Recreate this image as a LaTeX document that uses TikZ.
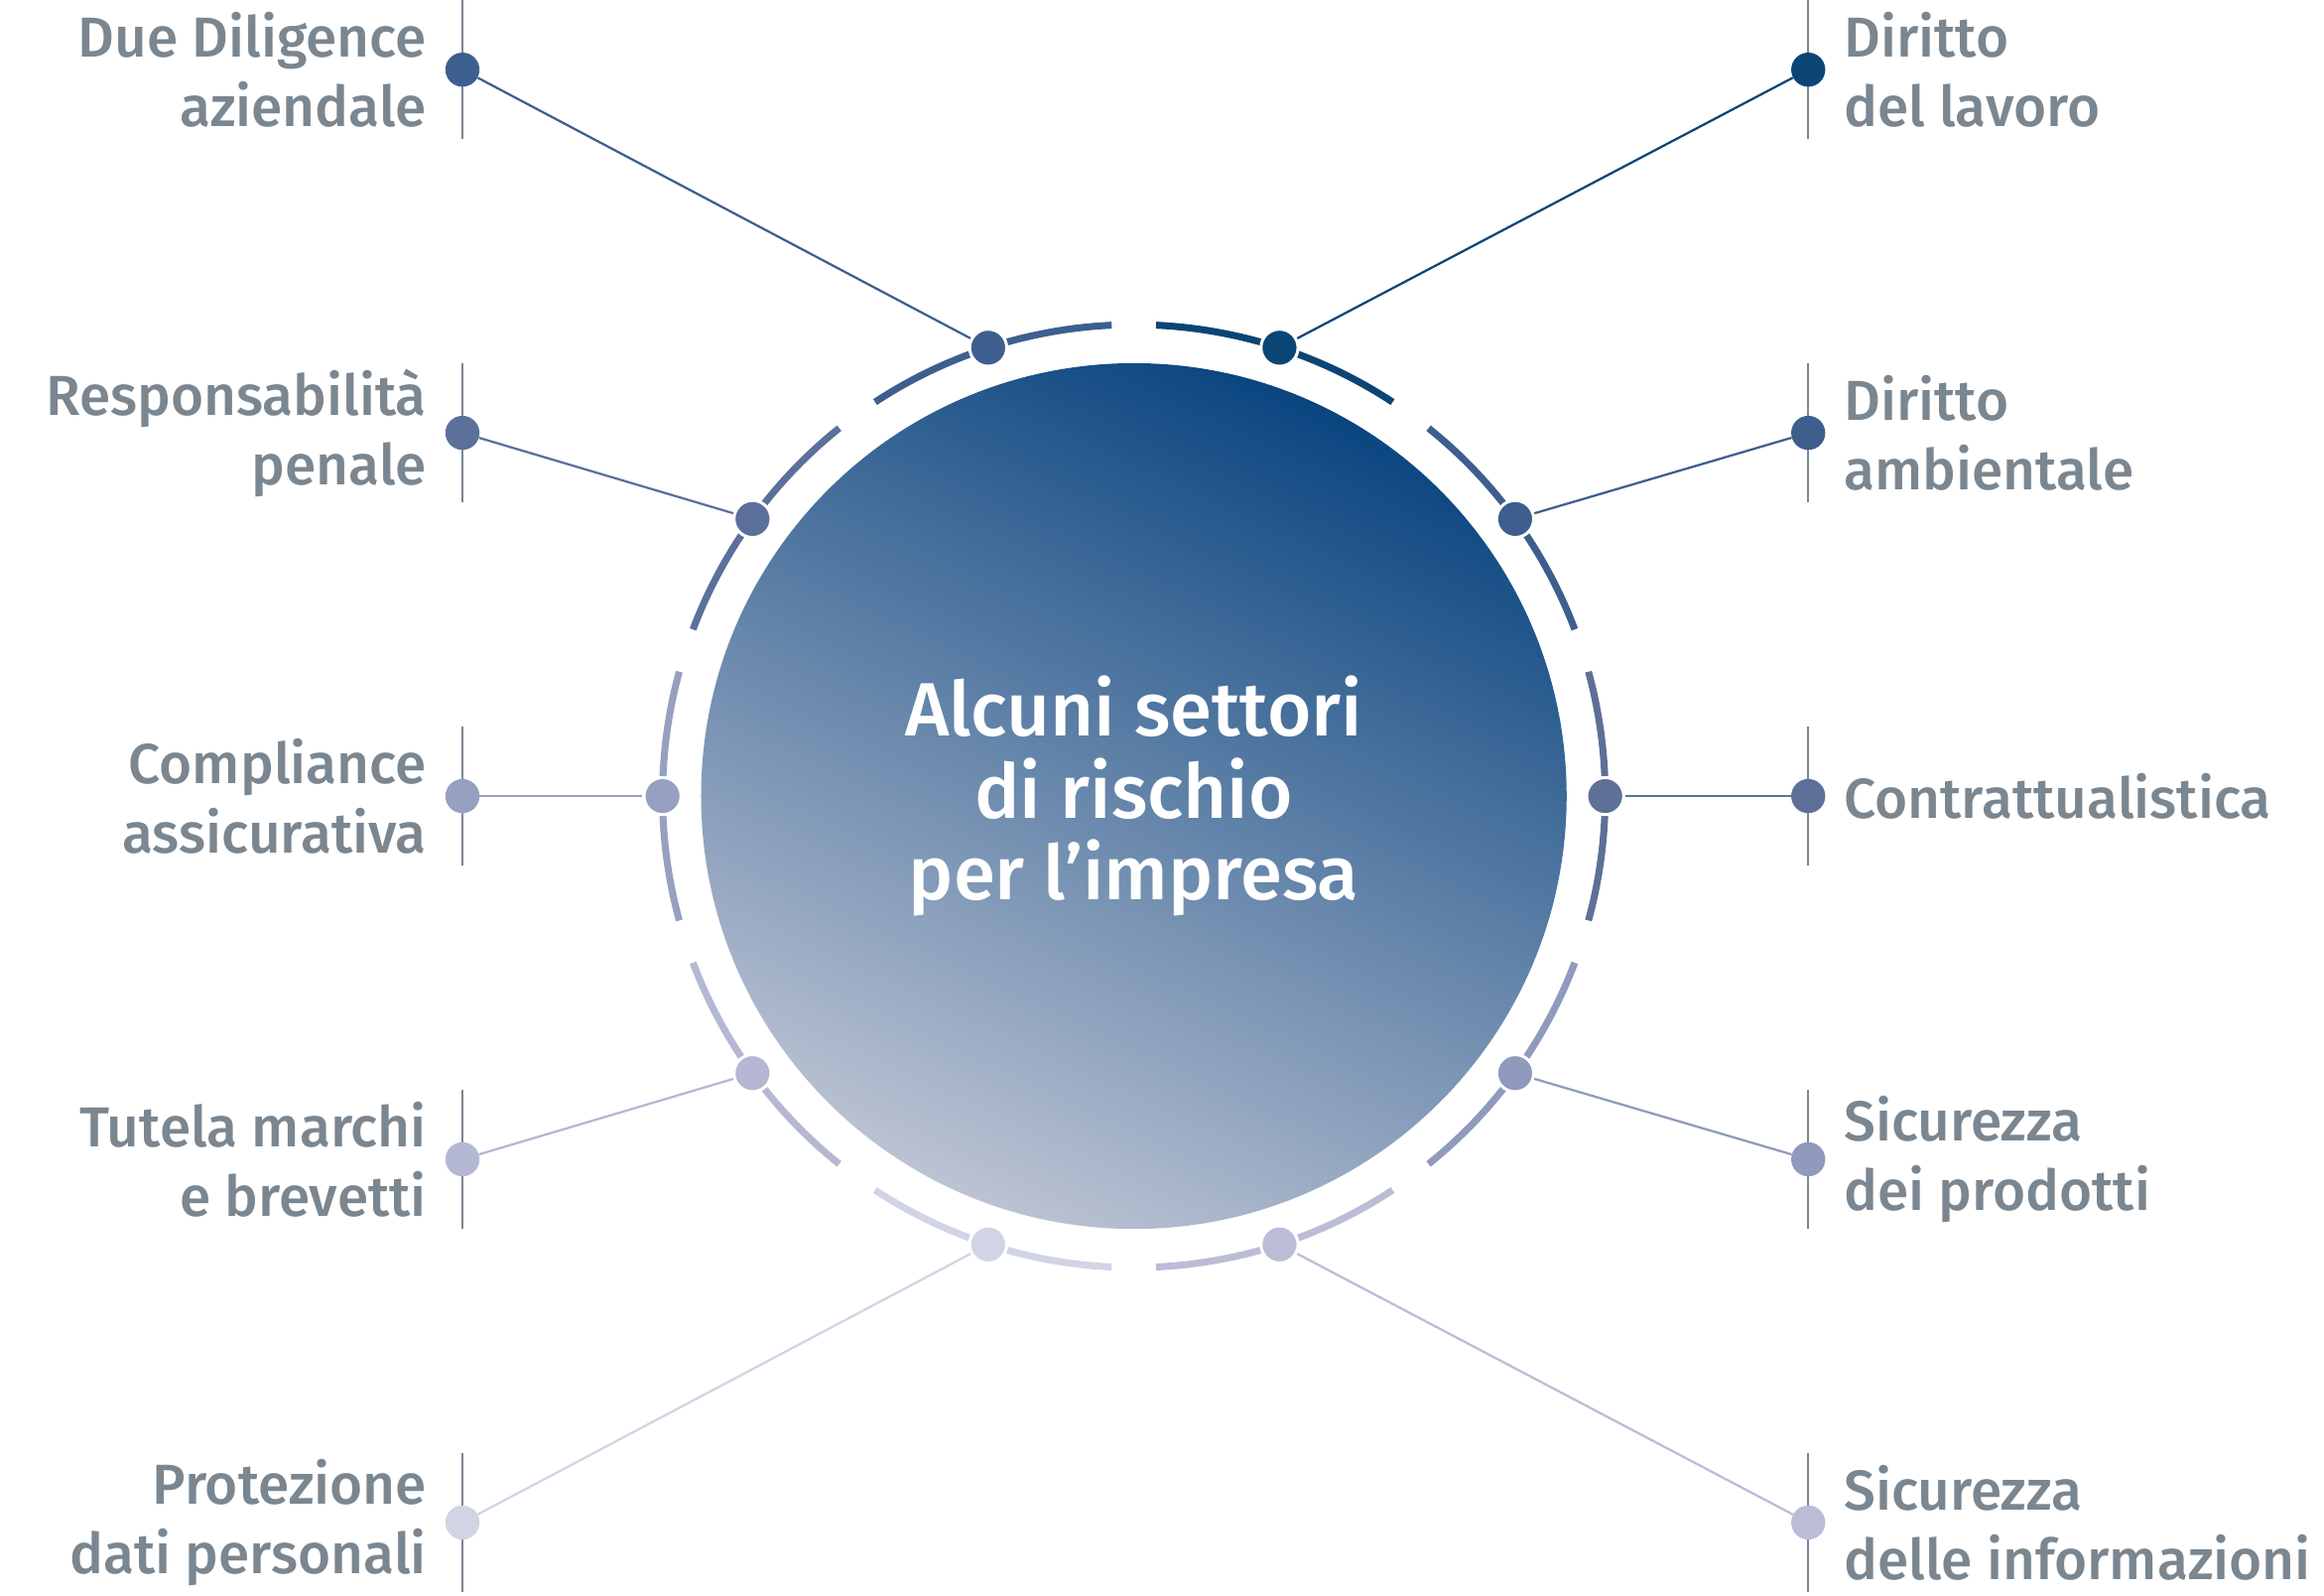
\documentclass[tikz,border=0pt]{standalone}
\usepackage{fontspec}
\setmainfont{Fira Sans}[UprightFont=* Medium]
\begin{document}
\begin{tikzpicture}[x=1pt,y=1pt]
\useasboundingbox (0,0) rectangle (1568,1076);
\definecolor{txt}{HTML}{7A8690}
\definecolor{dark}{HTML}{0A4580}
\definecolor{light}{HTML}{BCC3D3}
\tikzset{lbl/.style={text=txt,font=\fontsize{38}{47}\selectfont,inner sep=0pt},
  tick/.style={draw=txt,line width=1.5pt},
  ring/.style={line width=4.7pt},
  dotc/.style={circle,inner sep=0pt,minimum size=23pt},
  link/.style={line width=1.5pt}}
\shade[shading=axis,top color=dark,bottom color=light,shading angle=-25] (765,539) circle (292);
\node[text=white,align=center,font=\fontsize{51}{55}\selectfont,inner sep=0pt] (c) at (765,539) {Alcuni settori\\di rischio\\per l’impresa};
\foreach \a/\col/\oy/\ox/\name/\txt in {
 108/3D5F8F/1029/312/dd/{Due Diligence\\aziendale},
 144/5B709B/784/312/rp/{Responsabilità\\penale},
 180/96A0C0/539/312/ca/{Compliance\\assicurativa},
 216/B4B8D3/294/312/tm/{Tutela marchi\\e brevetti},
 252/D0D4E4/49/312/pd/{Protezione\\dati personali},
 72/0B4575/1029/1220/dl/{Diritto\\del lavoro},
 36/3E5F8D/784/1220/da/{Diritto\\ambientale},
 0/5E7098/539/1220/co/{Contrattualistica},
 324/8F9ABD/294/1220/sp/{Sicurezza\\dei prodotti},
 288/BBBDD6/49/1220/si/{Sicurezza\\delle informazioni}} {
  \definecolor{cc}{HTML}{\col}
  \draw[ring,cc] ({765+318*cos(\a-15.3)},{539+318*sin(\a-15.3)}) arc[start angle=\a-15.3,end angle=\a+15.3,radius=318];
  \draw[tick] (\ox,\oy-47) -- (\ox,\oy+47);
  \node[dotc,fill=cc] (o\name) at (\ox,\oy) {};
  \node[dotc,minimum size=25pt,fill=cc,draw=white,line width=2pt] (r\name) at ({765+318*cos(\a)},{539+318*sin(\a)}) {};
  \draw[link,cc] (o\name) -- (r\name);
  \ifnum\ox<700
    \node[lbl,align=right,anchor=east] (t\name) at (288,\oy) {\txt};
  \else
    \node[lbl,align=left,anchor=west] (t\name) at (1244,\oy) {\txt};
  \fi
}
\end{tikzpicture}
\end{document}
